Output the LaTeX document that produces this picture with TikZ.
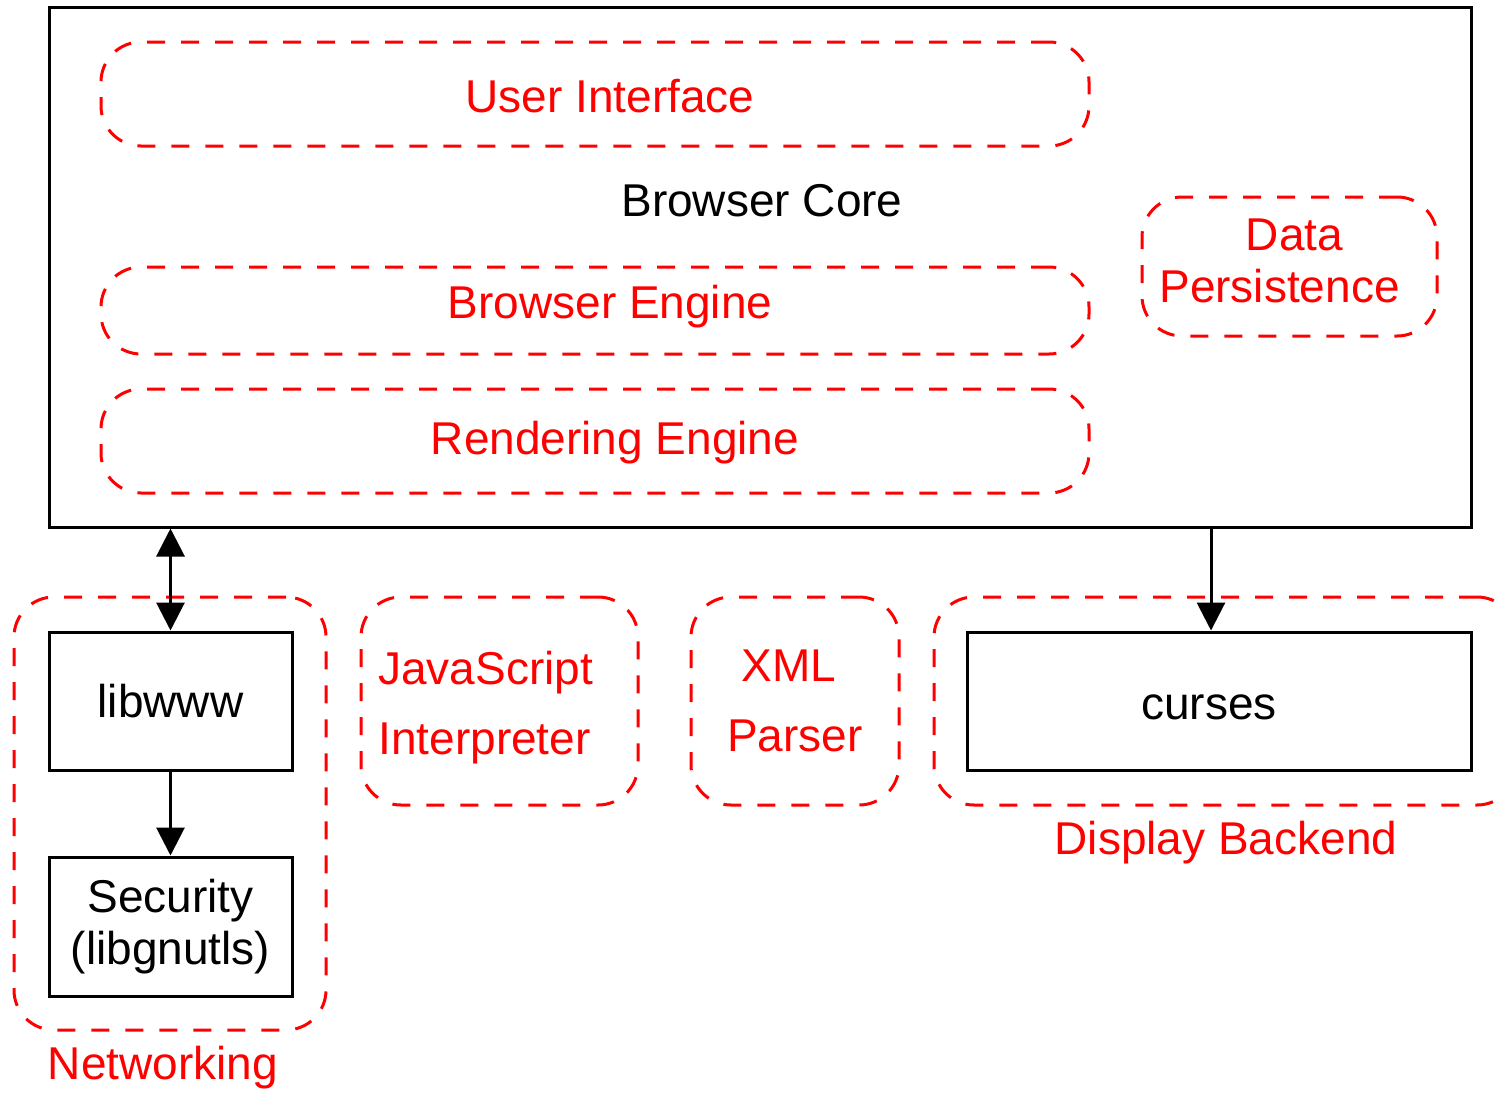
\documentclass[tikz,border=0pt]{standalone}
\usepackage{fontspec}
\setmainfont{Liberation Sans}
\usepackage{xcolor}
\usetikzlibrary{arrows.meta}

\begin{document}
\begin{tikzpicture}[x=0.5pt, y=-0.5pt, every node/.style={inner sep=0pt, font=\fontsize{23}{26}\selectfont}, every label/.style={text=red, align=center, inner sep=0pt, font=\fontsize{23}{26}\selectfont}, blackbox/.style={draw=black, line width=1.5pt, rectangle}, group/.style={draw=red, line width=1.5pt, dash pattern=on 9pt off 8pt, rounded corners=20pt, rectangle}, redtext/.style={text=red, align=center}, link/.style={line width=1.5pt, -{Triangle[width=14pt, length=14pt]}}]
		\useasboundingbox (0,0) rectangle (1498,1092);
		\node[blackbox, minimum width=711pt, minimum height=260pt](core) at (760,267){};
		\node(corelabel) at (762,201){Browser Core};
		\node[group, minimum width=494pt, minimum height=52pt, label={[xshift=7.5pt, yshift=-1pt]center:User Interface}](ui) at (595,94){};
		\node[group, minimum width=494pt, minimum height=43.5pt, label={[xshift=7.5pt, yshift=2pt]center:Browser Engine}](engine) at (595,310.5){};
		\node[group, minimum width=494pt, minimum height=52pt, label={[xshift=10pt, yshift=-1pt]center:Rendering Engine}](render) at (595,441){};
		\node[group, minimum width=147.5pt, minimum height=69.5pt, label={[xshift=-5pt, yshift=3pt]center:\hspace*{15pt}Data\\Persistence}](data) at (1289.5,266.5){};
		\node[group, minimum width=156pt, minimum height=216.5pt](net) at (170,813.5){};
		\node[redtext](netlabel) at (163,1068){Networking};
		\node[blackbox, minimum width=121.5pt, minimum height=69pt](libwww) at (170.5,701){libwww};
		\node[blackbox, align=center, minimum width=121.5pt, minimum height=69.5pt](security) at (170.5,926.5){Security\\(libgnutls)};
		\node[group, minimum width=138.5pt, minimum height=104pt](js) at (499.5,701){};
		\node[text=red, align=left, anchor=west, font=\fontsize{23}{35}\selectfont](jslabel) at (378,708){JavaScript\\Interpreter};
		\node[group, redtext, minimum width=104pt, minimum height=104pt, font=\fontsize{23}{35}\selectfont](xml) at (795,701){\hspace*{-6pt}XML\\Parser};
		\node[group, minimum width=291.5pt, minimum height=104pt](display) at (1225.5,701){};
		\node[redtext](displabel) at (1226,843){Display Backend};
		\node[blackbox, minimum width=252pt, minimum height=69pt, label={[text=black, xshift=-5pt, yshift=-3pt]center:curses}](curses) at (1219,701){};
		\draw[link, {Triangle[width=14pt, length=14pt]}-{Triangle[width=14pt, length=14pt]}] (core.south -| libwww.north) -- (libwww.north);
		\draw[link] (core.south -| 1211,0) -- (curses.north -| 1211,0);
		\draw[link] (libwww) -- (security);
	\end{tikzpicture}
\end{document}
